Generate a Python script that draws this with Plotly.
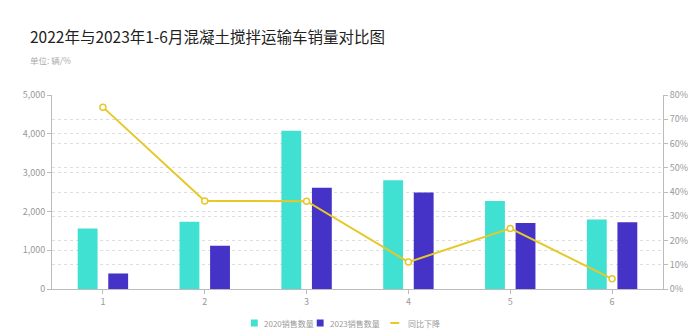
import plotly.graph_objects as go

months = ["1", "2", "3", "4", "5", "6"]
sales_2020 = [1560, 1735, 4080, 2800, 2270, 1790]
sales_2023 = [400, 1115, 2610, 2490, 1700, 1720]
yoy_decline = [75, 36.3, 36.2, 11.1, 25, 4.2]

left_ticks = [0, 1000, 2000, 3000, 4000, 5000]
left_labels = ["0", "1,000", "2,000", "3,000", "4,000", "5,000"]
right_ticks = [0, 10, 20, 30, 40, 50, 60, 70, 80]
right_labels = [f"{v}%" for v in right_ticks]

series_names = ["2020销售数量", "2023销售数量", "同比下降"]
CYAN = "#40E0D3"
BLUE = "#4433C6"
YELLOW = "#E6C829"

FONT = "Noto Sans CJK SC"
fig = go.Figure()
fig.add_trace(go.Bar(x=months, y=sales_2020, name=series_names[0],
                     marker=dict(color=CYAN, line=dict(width=0))))
fig.add_trace(go.Bar(x=months, y=sales_2023, name=series_names[1],
                     marker=dict(color=BLUE, line=dict(width=0))))
fig.add_trace(go.Scatter(x=months, y=yoy_decline, name=series_names[2], yaxis="y2",
                         mode="lines+markers",
                         line=dict(color=YELLOW, width=2),
                         marker=dict(symbol="circle", size=6, color="white",
                                     line=dict(color=YELLOW, width=1.5))))

GRID = dict(showgrid=True, gridcolor="#dedede", griddash="3px,3px", gridwidth=1)
fig.update_layout(
    width=700, height=334,
    margin=dict(l=52, r=26, t=95, b=45),
    paper_bgcolor="white", plot_bgcolor="white",
    font=dict(family=FONT, color="#999999", size=9),
    barmode="group", bargap=0.4, bargroupgap=0.35,
    showlegend=False,
    xaxis=dict(type="category", showline=True, linecolor="#bbbbbb", linewidth=1,
               ticks="outside", ticklen=4, tickcolor="#bbbbbb", showgrid=False,
               tickfont=dict(size=9, color="#999999")),
    yaxis=dict(range=[0, 5000], tickvals=left_ticks, ticktext=left_labels,
               showline=True, linecolor="#bbbbbb", linewidth=1,
               ticks="outside", ticklen=4, tickcolor="#bbbbbb",
               zeroline=False, **GRID),
    yaxis2=dict(range=[0, 80], tickvals=right_ticks, ticktext=right_labels,
                overlaying="y", side="right",
                showline=True, linecolor="#bbbbbb", linewidth=1,
                ticks="outside", ticklen=4, tickcolor="#bbbbbb",
                zeroline=False, **GRID),
)

# title & subtitle
fig.add_annotation(text="2022年与2023年1-6月混凝土搅拌运输车销量对比图",
                   xref="paper", yref="paper", x=-0.039, y=1.0, yanchor="middle",
                   xanchor="left", yshift=59, showarrow=False,
                   font=dict(family=FONT, size=15.5, color="#222222"))
fig.add_annotation(text="单位: 辆/%", xref="paper", yref="paper",
                   x=-0.039, y=1.0, xanchor="left", yanchor="middle", yshift=35,
                   showarrow=False, font=dict(family=FONT, size=8.5, color="#aaaaaa"))

# custom legend (bottom centre); plot area spans x 52..674, y 95..289 px
PX0, PW, PY_BOTTOM, PH = 52, 622, 289, 194
legend_items = [
    (series_names[0], "square", CYAN, 258, 266),
    (series_names[1], "square", BLUE, 325, 333),
    (series_names[2], "line", YELLOW, 401, 412),
]
y_c = -(323 - PY_BOTTOM) / PH
for name, kind, color, sx, tx in legend_items:
    fig.add_annotation(text=name, xref="paper", yref="paper",
                       x=(tx - PX0) / PW, y=y_c, xanchor="left",
                       yanchor="middle", showarrow=False,
                       font=dict(family=FONT, size=8, color="#999999"))
    if kind == "square":
        fig.add_shape(type="rect", xref="paper", yref="paper",
                      x0=(sx - 3.5 - PX0) / PW, x1=(sx + 3.5 - PX0) / PW,
                      y0=y_c - 3.5 / PH, y1=y_c + 3.5 / PH,
                      line=dict(width=0), fillcolor=color)
    else:
        fig.add_shape(type="line", xref="paper", yref="paper",
                      x0=(sx - 4.5 - PX0) / PW, x1=(sx + 4.5 - PX0) / PW,
                      y0=y_c, y1=y_c, line=dict(width=2, color=color))

fig.write_html("out.html")
